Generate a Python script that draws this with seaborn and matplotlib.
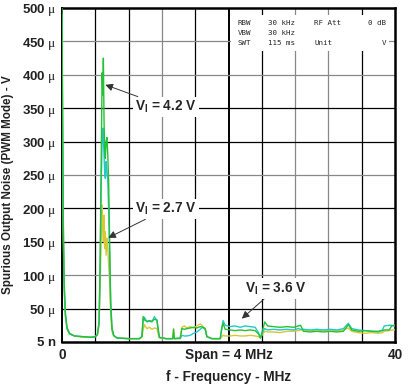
import numpy as np
import pandas as pd
import seaborn as sns
import matplotlib.pyplot as plt
from matplotlib.patches import Rectangle

# frequency points (MHz) and spurious noise (uV)
freq = [0.0, 0.08, 0.15, 0.25, 0.4, 0.6, 0.9, 1.5, 2.5, 3.5,
        4.0, 4.25, 4.45, 4.58, 4.7, 4.82, 4.9, 4.97, 5.05, 5.12,
        5.2, 5.3, 5.4, 5.5, 5.6, 5.72, 5.85, 6.0, 6.2, 6.6, 8.0, 9.3,
        9.6, 9.75, 9.9, 10.2, 10.5, 10.8, 11.1, 11.4, 11.55, 11.7, 12.5, 13.3, 13.4, 13.5, 14.2,
        14.4, 14.7, 15.0, 15.4, 15.8, 16.2, 16.6, 16.9, 17.2, 17.4, 18.0, 19.0, 19.2, 19.35, 19.6,
        20.2, 20.8, 21.4, 22.0, 22.6, 23.2, 23.6, 23.85, 24.1, 24.35, 24.7, 25.4, 26.2, 27.0, 27.8,
        28.4, 28.65, 29.0, 29.8, 30.6, 31.4, 32.2, 33.0, 33.8, 34.4, 34.8, 35.6, 36.4, 37.2, 38.0,
        38.5, 38.7, 39.3, 39.6, 40.0]
noise_42 = [500, 330, 190, 95, 45, 22, 13, 9, 8, 7,
            8, 11, 30, 120, 260, 403, 370, 425, 330, 290,
            275, 300, 306, 280, 240, 150, 60, 22, 10, 6, 5, 5,
            8, 38, 33, 31, 32, 31, 34, 33, 20, 7, 5, 5, 19, 5, 6,
            20, 19, 20, 21, 22, 21, 23, 22, 20, 8, 5, 5, 20, 28, 19,
            18, 17, 18, 17, 18, 17, 12, 6, 18, 30, 24, 23, 22, 23, 22,
            24, 25, 16, 15, 16, 15, 16, 15, 16, 26, 18, 16, 17, 16, 16,
            17, 18, 18, 24, 25]
noise_36 = [490, 300, 175, 85, 40, 20, 12, 9, 8, 7,
            8, 11, 28, 110, 230, 300, 320, 305, 280, 255,
            245, 270, 255, 240, 200, 130, 55, 20, 10, 6, 5, 5,
            8, 34, 37, 30, 31, 30, 38, 32, 18, 7, 5, 5, 6, 5, 5,
            10, 9, 9, 10, 13, 15, 19, 22, 20, 8, 5, 5, 22, 32, 25,
            23, 24, 22, 24, 23, 22, 14, 6, 15, 20, 18, 19, 18, 19, 18,
            20, 19, 19, 18, 19, 18, 19, 18, 20, 28, 20, 18, 17, 16, 15,
            18, 24, 25, 25, 24]
noise_27 = [480, 280, 160, 80, 38, 19, 12, 9, 7, 7,
            8, 10, 25, 80, 150, 205, 170, 150, 190, 140,
            165, 130, 155, 140, 115, 90, 40, 16, 9, 6, 5, 5,
            7, 18, 26, 20, 22, 19, 21, 20, 12, 6, 5, 5, 20, 5, 6,
            22, 24, 21, 23, 21, 24, 27, 24, 18, 8, 5, 5, 8, 10, 9,
            9, 10, 9, 9, 10, 9, 8, 6, 12, 16, 15, 15, 14, 16, 16,
            17, 18, 18, 17, 18, 17, 18, 17, 18, 21, 16, 14, 13, 14, 13,
            14, 16, 17, 18, 18]
series = ['2.7', '3.6', '4.2']
colors = {'2.7': '#d8c836', '3.6': '#25c8c8', '4.2': '#25c035'}

ytick_vals = [0, 50, 100, 150, 200, 250, 300, 350, 400, 450, 500]
ytick_text = ['5 n'] + [f'{v} $\\mathrm{{\\mu}}$' for v in ytick_vals[1:]]

df = pd.DataFrame({
    'freq': freq * 3,
    'noise': noise_27 + noise_36 + noise_42,
    'vin': sum([[s] * len(freq) for s in series], []),
})

sns.set_style('white')
plt.rcParams['font.family'] = ['Liberation Sans', 'DejaVu Sans']
plt.rcParams['mathtext.fontset'] = 'custom'
plt.rcParams['mathtext.rm'] = 'Liberation Serif'

fig = plt.figure(figsize=(4.09, 3.92), dpi=100)
ax = fig.add_axes([0.1516, 0.1276, 0.8142, 0.852])

# scope graticule (mix of black and grey lines like the scan)
vcol = ['k', 'k', '#888888', 'k', 'k', 'k', '#888888', '#888888', 'k']
for i, c in enumerate(vcol):
    x = 4 * (i + 1)
    ax.axvline(x, color=c, lw=1.4 if x == 20 else 0.9, zorder=0.5)
hcol = ['k', '#888888', 'k', 'k', '#888888', 'k', 'k', '#888888', '#888888']
for i, c in enumerate(hcol):
    ax.axhline(50 * (i + 1), color=c, lw=0.9, zorder=0.5)

# analyzer settings box
ax.add_patch(Rectangle((20.3, 436), 19.0, 53, facecolor='white', edgecolor='none', zorder=1))
mono = dict(family='DejaVu Sans Mono', fontsize=5.4, va='center', zorder=3)
ax.text(21.1, 477, 'RBW', **mono)
ax.text(24.8, 477, '30 kHz', **mono)
ax.text(30.3, 477, 'RF Att', **mono)
ax.text(38.9, 477, '0 dB', ha='right', **mono)
ax.text(21.1, 462, 'VBW', **mono)
ax.text(24.8, 462, '30 kHz', **mono)
ax.text(21.1, 448, 'SWT', **mono)
ax.text(24.7, 448, '115 ms', **mono)
ax.text(30.3, 448, 'Unit', **mono)
ax.text(38.9, 448, 'V', ha='right', **mono)

sns.lineplot(data=df, x='freq', y='noise', hue='vin', hue_order=series,
             palette=colors, linewidth=1.0, sort=False, legend=False, ax=ax, zorder=3)

arrow = dict(arrowstyle='-|>', color='#333333', lw=0.7, mutation_scale=11, shrinkA=0, shrinkB=0)
box = dict(facecolor='white', edgecolor='none', pad=1.5)
lab = dict(fontsize=9.8, fontweight='bold', ha='left', va='center', bbox=box, zorder=4)
ax.annotate('V$_\\mathregular{I}$ = 4.2 V', xy=(5.2, 385), xytext=(8.8, 352),
            arrowprops=arrow, **lab)
ax.annotate('V$_\\mathregular{I}$ = 2.7 V', xy=(5.55, 156), xytext=(8.8, 199),
            arrowprops=arrow, **lab)
ax.annotate('V$_\\mathregular{I}$ = 3.6 V', xy=(21.6, 35), xytext=(22.0, 80),
            arrowprops=arrow, **lab)

ax.set_xlim(0, 40)
ax.set_ylim(0, 500)
ax.set_xticks([0, 20, 40])
ax.set_xticklabels(['0', 'Span = 4 MHz', '40'], fontsize=9.8, fontweight='bold')
ax.set_yticks(ytick_vals)
ax.set_yticklabels(ytick_text, fontsize=9.5, fontweight='bold')
ax.tick_params(length=0, pad=4, colors='#222222')
ax.set_xlabel('f - Frequency - MHz', fontsize=9.8, fontweight='bold', color='#222222')
ax.set_ylabel('Spurious Output Noise (PWM Mode) - V', fontsize=8.4, fontweight='bold', color='#222222')
ax.xaxis.set_label_coords(0.5, -0.085)
ax.yaxis.set_label_coords(-0.145, 0.47)
for s in ax.spines.values():
    s.set_color('black')
    s.set_linewidth(1.8)
ax.spines['left'].set_linewidth(1.4)

fig.savefig('out.png', dpi=100)
